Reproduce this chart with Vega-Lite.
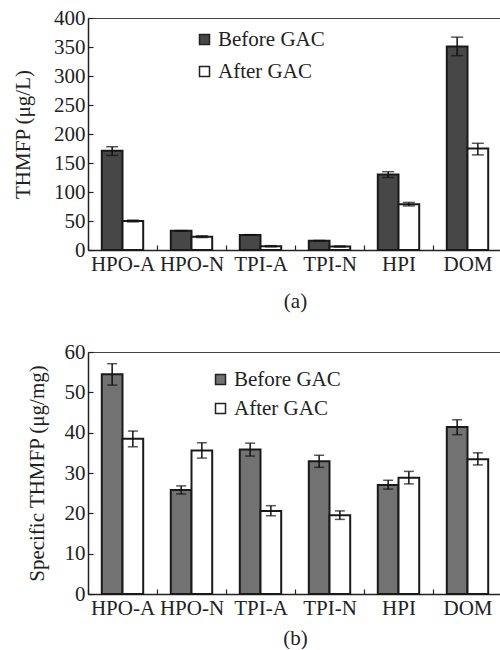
{
  "$schema": "https://vega.github.io/schema/vega-lite/v6.json",
  "padding": {"left": 11, "top": 6, "right": 0, "bottom": 0},
  "spacing": 102,
  "bounds": "flush",
  "datasets": {
    "a": [
      {"frac": "HPO-A", "stage": "Before GAC", "value": 171, "lo": 163, "hi": 178},
      {"frac": "HPO-A", "stage": "After GAC", "value": 50, "lo": 48.5, "hi": 51.5},
      {"frac": "HPO-N", "stage": "Before GAC", "value": 33, "lo": 32.5, "hi": 33.5},
      {"frac": "HPO-N", "stage": "After GAC", "value": 23, "lo": 21.5, "hi": 24.5},
      {"frac": "TPI-A", "stage": "Before GAC", "value": 26, "lo": 25.5, "hi": 26.5},
      {"frac": "TPI-A", "stage": "After GAC", "value": 6.5, "lo": 5.5, "hi": 7.5},
      {"frac": "TPI-N", "stage": "Before GAC", "value": 16, "lo": 15.5, "hi": 16.5},
      {"frac": "TPI-N", "stage": "After GAC", "value": 6, "lo": 5, "hi": 7},
      {"frac": "HPI", "stage": "Before GAC", "value": 130, "lo": 125, "hi": 135},
      {"frac": "HPI", "stage": "After GAC", "value": 79, "lo": 76, "hi": 82},
      {"frac": "DOM", "stage": "Before GAC", "value": 351, "lo": 335, "hi": 367},
      {"frac": "DOM", "stage": "After GAC", "value": 175, "lo": 164, "hi": 184}
    ],
    "b": [
      {"frac": "HPO-A", "stage": "Before GAC", "value": 54.5, "lo": 51.8, "hi": 57.1},
      {"frac": "HPO-A", "stage": "After GAC", "value": 38.5, "lo": 36.5, "hi": 40.4},
      {"frac": "HPO-N", "stage": "Before GAC", "value": 25.8, "lo": 24.8, "hi": 26.8},
      {"frac": "HPO-N", "stage": "After GAC", "value": 35.6, "lo": 33.7, "hi": 37.5},
      {"frac": "TPI-A", "stage": "Before GAC", "value": 35.8, "lo": 34.2, "hi": 37.4},
      {"frac": "TPI-A", "stage": "After GAC", "value": 20.6, "lo": 19.4, "hi": 21.9},
      {"frac": "TPI-N", "stage": "Before GAC", "value": 32.9, "lo": 31.4, "hi": 34.4},
      {"frac": "TPI-N", "stage": "After GAC", "value": 19.5, "lo": 18.5, "hi": 20.6},
      {"frac": "HPI", "stage": "Before GAC", "value": 27.0, "lo": 26.0, "hi": 28.2},
      {"frac": "HPI", "stage": "After GAC", "value": 28.8, "lo": 27.3, "hi": 30.4},
      {"frac": "DOM", "stage": "Before GAC", "value": 41.4, "lo": 39.5, "hi": 43.2},
      {"frac": "DOM", "stage": "After GAC", "value": 33.4, "lo": 32.0, "hi": 35.0}
    ]
  },
  "resolve": {"scale": {"fill": "independent"}, "legend": {"fill": "independent"}},
  "vconcat": [
    {
      "width": 414,
      "height": 232,
      "data": {"name": "a"},
      "encoding": {
        "x": {"field": "frac", "type": "nominal", "sort": ["HPO-A", "HPO-N", "TPI-A", "TPI-N", "HPI", "DOM"],
          "scale": {"paddingInner": 0.4, "paddingOuter": 0.2},
          "axis": {"title": "(a)", "labelAngle": 0, "bandPosition": 0.5, "tickOffset": -34.5, "labelOffset": 34.5, "titlePadding": 16}},
        "xOffset": {"field": "stage", "type": "nominal", "sort": ["Before GAC", "After GAC"], "scale": {"paddingInner": 0, "paddingOuter": 0}}
      },
      "layer": [
        {
          "mark": {"type": "bar", "stroke": "#1a1a1a", "strokeWidth": 2},
          "encoding": {
            "y": {"field": "value", "type": "quantitative", "scale": {"domain": [0, 400], "nice": false},
              "axis": {"title": "THMFP (μg/L)", "values": [0, 50, 100, 150, 200, 250, 300, 350, 400], "titleX": -55}},
            "fill": {"field": "stage", "type": "nominal", "sort": ["Before GAC", "After GAC"],
              "scale": {"domain": ["Before GAC", "After GAC"], "range": ["#474747", "#ffffff"]},
              "legend": {"orient": "none", "legendX": 106, "legendY": 11, "rowPadding": 10}}
          }
        },
        {
          "mark": {"type": "rule", "color": "#111", "strokeWidth": 1.5},
          "encoding": {"y": {"field": "lo", "type": "quantitative",
              "axis": {"title": "THMFP (μg/L)", "values": [0, 50, 100, 150, 200, 250, 300, 350, 400], "titleX": -55}},
            "y2": {"field": "hi"}}
        },
        {
          "mark": {"type": "tick", "color": "#111", "thickness": 1.5, "size": 12},
          "encoding": {"y": {"field": "lo", "type": "quantitative",
              "axis": {"title": "THMFP (μg/L)", "values": [0, 50, 100, 150, 200, 250, 300, 350, 400], "titleX": -55}}}
        },
        {
          "mark": {"type": "tick", "color": "#111", "thickness": 1.5, "size": 12},
          "encoding": {"y": {"field": "hi", "type": "quantitative",
              "axis": {"title": "THMFP (μg/L)", "values": [0, 50, 100, 150, 200, 250, 300, 350, 400], "titleX": -55}}}
        }
      ]
    },
    {
      "width": 414,
      "height": 242,
      "data": {"name": "b"},
      "encoding": {
        "x": {"field": "frac", "type": "nominal", "sort": ["HPO-A", "HPO-N", "TPI-A", "TPI-N", "HPI", "DOM"],
          "scale": {"paddingInner": 0.4, "paddingOuter": 0.2},
          "axis": {"title": "(b)", "labelAngle": 0, "bandPosition": 0.5, "tickOffset": -34.5, "labelOffset": 34.5, "titlePadding": 9}},
        "xOffset": {"field": "stage", "type": "nominal", "sort": ["Before GAC", "After GAC"], "scale": {"paddingInner": 0, "paddingOuter": 0}}
      },
      "layer": [
        {
          "mark": {"type": "bar", "stroke": "#1a1a1a", "strokeWidth": 2},
          "encoding": {
            "y": {"field": "value", "type": "quantitative", "scale": {"domain": [0, 60], "nice": false},
              "axis": {"title": "Specific THMFP (μg/mg)", "values": [0, 10, 20, 30, 40, 50, 60], "titleX": -41}},
            "fill": {"field": "stage", "type": "nominal", "sort": ["Before GAC", "After GAC"],
              "scale": {"domain": ["Before GAC", "After GAC"], "range": ["#727272", "#ffffff"]},
              "legend": {"orient": "none", "legendX": 122, "legendY": 17, "rowPadding": 7}}
          }
        },
        {
          "mark": {"type": "rule", "color": "#111", "strokeWidth": 1.5},
          "encoding": {"y": {"field": "lo", "type": "quantitative",
              "axis": {"title": "Specific THMFP (μg/mg)", "values": [0, 10, 20, 30, 40, 50, 60], "titleX": -41}},
            "y2": {"field": "hi"}}
        },
        {
          "mark": {"type": "tick", "color": "#111", "thickness": 1.5, "size": 10},
          "encoding": {"y": {"field": "lo", "type": "quantitative",
              "axis": {"title": "Specific THMFP (μg/mg)", "values": [0, 10, 20, 30, 40, 50, 60], "titleX": -41}}}
        },
        {
          "mark": {"type": "tick", "color": "#111", "thickness": 1.5, "size": 10},
          "encoding": {"y": {"field": "hi", "type": "quantitative",
              "axis": {"title": "Specific THMFP (μg/mg)", "values": [0, 10, 20, 30, 40, 50, 60], "titleX": -41}}}
        }
      ]
    }
  ],
  "config": {
    "font": "Liberation Serif",
    "background": "white",
    "view": {"stroke": "#444", "strokeWidth": 1},
    "axis": {
      "labelFont": "Liberation Serif", "labelFontSize": 21, "labelColor": "#222",
      "titleFont": "Liberation Serif", "titleFontSize": 21, "titleFontWeight": "normal", "titleColor": "#222",
      "domainColor": "#222", "domainWidth": 1.5, "tickColor": "#222", "tickWidth": 1.2, "tickSize": -5,
      "grid": false, "labelPadding": 8, "titlePadding": 10
    },
    "legend": {
      "title": null, "symbolType": "square", "symbolSize": 100, "symbolStrokeColor": "#222", "symbolStrokeWidth": 1.5,
      "labelFont": "Liberation Serif", "labelFontSize": 21, "labelColor": "#222", "labelOffset": 3, "padding": 0
    }
  }
}
